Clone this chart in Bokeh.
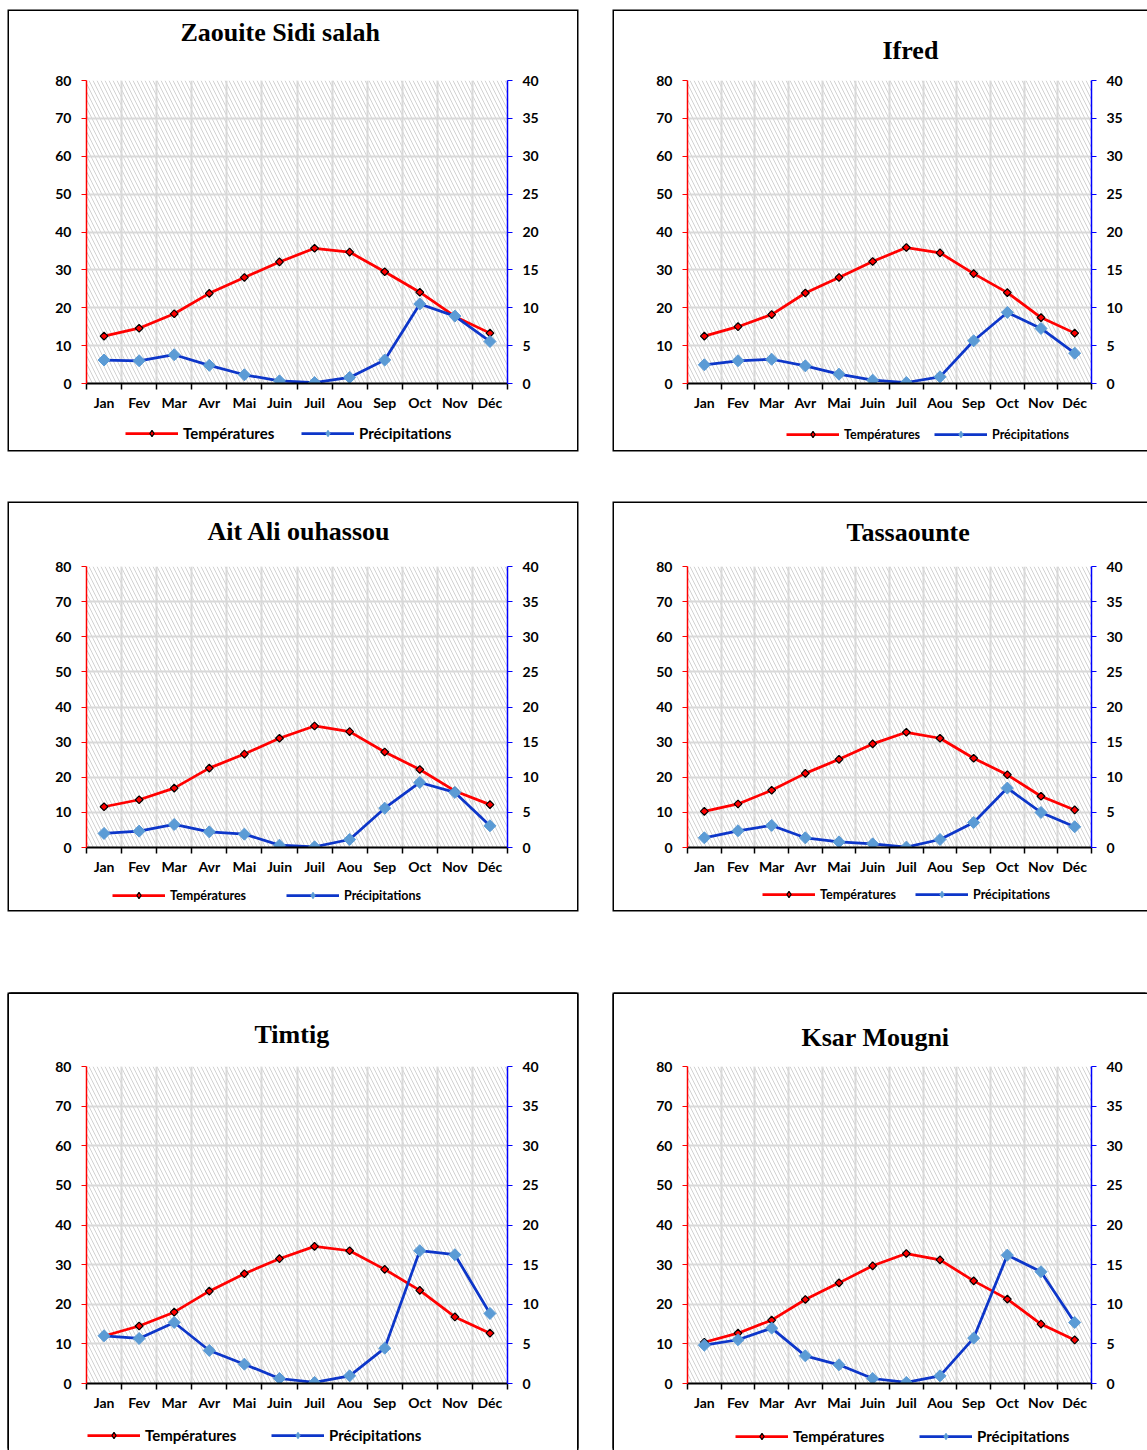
import math
from bokeh.plotting import figure
from bokeh.models import Range1d, LinearAxis, FixedTicker, BoxAnnotation, Legend, LegendItem, Label
from bokeh.layouts import column, row
from bokeh.embed import file_html
from bokeh.resources import INLINE

# ---------------- data ----------------
months = ["Jan", "Fev", "Mar", "Avr", "Mai", "Juin", "Juil", "Aou", "Sep", "Oct", "Nov", "Déc"]
temp_ticks = [0, 10, 20, 30, 40, 50, 60, 70, 80]
precip_ticks = [0, 5, 10, 15, 20, 25, 30, 35, 40]
series_names = ["Températures", "Précipitations"]

stations = ["Zaouite Sidi salah", "Ifred", "Ait Ali ouhassou", "Tassaounte", "Timtig", "Ksar Mougni"]

temp_zaouite = [12.5, 14.6, 18.4, 23.8, 28.0, 32.1, 35.7, 34.7, 29.5, 24.1, 17.7, 13.3]
precip_zaouite = [3.1, 3.0, 3.8, 2.4, 1.15, 0.35, 0.13, 0.8, 3.1, 10.5, 8.9, 5.55]

temp_ifred = [12.5, 15.0, 18.2, 23.9, 28.0, 32.2, 35.9, 34.5, 29.0, 24.0, 17.4, 13.3]
precip_ifred = [2.47, 3.0, 3.2, 2.33, 1.23, 0.44, 0.13, 0.88, 5.64, 9.38, 7.27, 4.0]

temp_aitali = [11.6, 13.6, 16.9, 22.6, 26.6, 31.1, 34.6, 33.0, 27.2, 22.2, 16.1, 12.2]
precip_aitali = [2.0, 2.33, 3.28, 2.23, 1.9, 0.33, 0.1, 1.14, 5.6, 9.26, 7.84, 3.09]

temp_tassaounte = [10.3, 12.4, 16.3, 21.1, 25.1, 29.5, 32.8, 31.1, 25.4, 20.7, 14.6, 10.7]
precip_tassaounte = [1.38, 2.38, 3.14, 1.38, 0.8, 0.52, 0.05, 1.14, 3.56, 8.46, 4.99, 2.95]

temp_timtig = [12.0, 14.5, 18.0, 23.3, 27.7, 31.5, 34.6, 33.5, 28.8, 23.5, 16.8, 12.7]
precip_timtig = [6.02, 5.68, 7.7, 4.17, 2.44, 0.63, 0.13, 0.97, 4.46, 16.76, 16.25, 8.84]

temp_ksar = [10.4, 12.7, 16.0, 21.2, 25.4, 29.7, 32.8, 31.2, 25.9, 21.3, 15.0, 11.0]
precip_ksar = [4.84, 5.52, 6.99, 3.49, 2.36, 0.63, 0.13, 0.97, 5.73, 16.2, 14.1, 7.7]

temps = [temp_zaouite, temp_ifred, temp_aitali, temp_tassaounte, temp_timtig, temp_ksar]
precips = [precip_zaouite, precip_ifred, precip_aitali, precip_tassaounte, precip_timtig, precip_ksar]

# ---------------- layout / style config ----------------
FULL = "0 0 0 1.5px #000"
NO_BOTTOM = "-1.5px 0 0 0 #000, 1.5px 0 0 0 #000, 0 -1.5px 0 0 #000, -1.5px -1.5px 0 0 #000, 1.5px -1.5px 0 0 #000"
LEFT_TOP = "-1.5px 0 0 0 #000, 0 -1.5px 0 0 #000, -1.5px -1.5px 0 0 #000"

# th: height of the title strip, bt: remaining top border of the chart
panels = [
    dict(fw=421, fh=303, bl=77, br=70, th=59, bt=10, bb=35, lh=32, margin=(11, 0, 0, 9), shadow=FULL,
         tox=94, toy=38, lx=39, ly=8, sp=24, lw=94, lf="15px"),
    dict(fw=404, fh=303, bl=73, br=56, th=59, bt=10, bb=35, lh=32, margin=(11, 0, 0, 37), shadow=FULL,
         tox=195, toy=20, lx=99, ly=8, sp=12, lw=78, lf="12.5px"),
    dict(fw=421, fh=281, bl=77, br=70, th=53, bt=10, bb=35, lh=28, margin=(53, 0, 0, 9), shadow=FULL,
         tox=121, toy=25, lx=26, ly=7, sp=37, lw=79, lf="12.5px"),
    dict(fw=404, fh=281, bl=73, br=56, th=53, bt=10, bb=35, lh=28, margin=(53, 0, 0, 37), shadow=FULL,
         tox=159, toy=24, lx=75, ly=8, sp=16, lw=79, lf="12.5px"),
    dict(fw=421, fh=317, bl=77, br=70, th=62, bt=10, bb=35, lh=32, margin=(84, 0, 0, 9), shadow=NO_BOTTOM,
         tox=168, toy=22, lx=1, ly=6, sp=32, lw=94, lf="15px"),
    dict(fw=404, fh=317, bl=73, br=56, th=62, bt=10, bb=35, lh=32, margin=(84, 0, 0, 37), shadow=LEFT_TOP,
         tox=114, toy=19, lx=48, ly=5, sp=33, lw=93, lf="15px"),
]

TICK_FONT = "Lato"
TITLE_FONT = "Liberation Serif"
GRID = "#d9d9d9"
RED = "#ff0000"
BLUE_LINE = "#0d36c9"
BLUE_MARK = "#5b9bd5"
ROT = math.pi / 4
NAN = float("nan")

T_LINE = dict(line_color=RED, line_width=2.75)
T_MARK = dict(marker="square", angle=ROT, size=5.5, fill_color=RED, line_color="black", line_width=1.2)
P_LINE = dict(line_color=BLUE_LINE, line_width=2.75)
P_MARK = dict(marker="square", angle=ROT, size=8.5, fill_color=BLUE_MARK, line_color=BLUE_MARK)
# legend swatches (the legend does not rotate markers, so use diamonds there)
T_MARK_LEG = dict(marker="diamond", size=8, fill_color=RED, line_color="black", line_width=1.2)
P_MARK_LEG = dict(marker="diamond", size=12, fill_color=BLUE_MARK, line_color=BLUE_MARK)


def blank_fig(c, height):
    w = c["bl"] + c["fw"] + c["br"]
    f = figure(width=w, height=height, x_range=Range1d(0, 1), y_range=Range1d(0, 1),
               x_axis_type=None, y_axis_type=None, min_border=0,
               output_backend="svg", toolbar_location=None, tools="",
               background_fill_color="white", border_fill_color="white",
               outline_line_color=None)
    f.xgrid.visible = False
    f.ygrid.visible = False
    return f


def style_axis(ax, color, tick_out):
    ax.axis_line_color = color
    ax.major_tick_line_color = color
    ax.major_tick_out = tick_out
    ax.major_tick_in = 0
    ax.major_label_text_font = TICK_FONT
    ax.major_label_text_font_style = "bold"
    ax.major_label_text_font_size = "14px"
    ax.major_label_text_color = "black"


def make_title(name, c):
    f = blank_fig(c, c["th"])
    f.add_layout(Label(x=c["tox"], y=c["toy"], x_units="screen", y_units="screen", text=name,
                       text_font=TITLE_FONT, text_font_style="bold", text_font_size="26px",
                       text_color="black", text_align="left", text_baseline="middle"))
    return f


def make_chart(t_vals, p_vals, c):
    n = len(months)
    x = list(range(n))
    bounds = [i - 0.5 for i in range(n + 1)]
    p = figure(frame_width=c["fw"], frame_height=c["fh"],
               min_border_left=c["bl"], min_border_right=c["br"],
               min_border_top=c["bt"], min_border_bottom=c["bb"],
               x_range=Range1d(bounds[0], bounds[-1]),
               y_range=Range1d(temp_ticks[0], temp_ticks[-1]),
               output_backend="svg", toolbar_location=None, tools="",
               background_fill_color="white", border_fill_color="white",
               outline_line_color=None)
    p.extra_y_ranges = {"precip": Range1d(precip_ticks[0], precip_ticks[-1])}

    xa = p.below[0]
    ya = p.left[0]

    # hatched plot area
    p.add_layout(BoxAnnotation(fill_color="white", fill_alpha=1.0, hatch_pattern="\\",
                               hatch_color="#d2d2d2", hatch_weight=1.0, hatch_scale=8,
                               line_color=None, level="image"))

    # grids
    p.xgrid.ticker = FixedTicker(ticks=bounds)
    p.xgrid.grid_line_color = GRID
    p.xgrid.grid_line_width = 2
    p.ygrid.ticker = FixedTicker(ticks=temp_ticks)
    p.ygrid.grid_line_color = GRID
    p.ygrid.grid_line_width = 2

    # series
    p.line(x, t_vals, **T_LINE)
    p.scatter(x, t_vals, **T_MARK)
    p.line(x, p_vals, y_range_name="precip", **P_LINE)
    p.scatter(x, p_vals, y_range_name="precip", **P_MARK)

    # x axis (bottom)
    style_axis(xa, "black", 6)
    xa.ticker = FixedTicker(ticks=x, minor_ticks=bounds)
    xa.major_label_overrides = {i: m for i, m in zip(x, months)}
    xa.major_tick_line_color = None
    xa.minor_tick_line_color = "black"
    xa.minor_tick_line_width = 1.5
    xa.minor_tick_out = 6
    xa.minor_tick_in = 0
    xa.axis_line_width = 2
    xa.major_label_standoff = 4

    # left axis
    style_axis(ya, RED, 5)
    ya.ticker = FixedTicker(ticks=temp_ticks)
    ya.axis_line_width = 1.5
    ya.minor_tick_line_color = None
    ya.major_label_standoff = 10

    # right axis
    ra = LinearAxis(y_range_name="precip", ticker=FixedTicker(ticks=precip_ticks))
    style_axis(ra, "#0000ff", 5)
    ra.axis_line_width = 1.5
    ra.minor_tick_line_color = None
    ra.major_label_standoff = 10
    p.add_layout(ra, "right")
    return p


def make_legend(c):
    lf = blank_fig(c, c["lh"])
    # legend-only proxies (NaN data: nothing drawn in the plot area)
    tl = lf.line([NAN], [NAN], **T_LINE)
    tm = lf.scatter([NAN], [NAN], **T_MARK_LEG)
    pl = lf.line([NAN], [NAN], **P_LINE)
    pm = lf.scatter([NAN], [NAN], **P_MARK_LEG)
    legend = Legend(items=[LegendItem(label=series_names[0], renderers=[tl, tm]),
                           LegendItem(label=series_names[1], renderers=[pl, pm])],
                    orientation="horizontal", location=(c["lx"], c["ly"]),
                    padding=0, margin=0, spacing=c["sp"],
                    glyph_width=53, glyph_height=16, label_height=16,
                    label_width=c["lw"], label_standoff=5,
                    label_text_font=TICK_FONT, label_text_font_style="bold",
                    label_text_font_size=c["lf"], label_text_color="black",
                    border_line_color=None, background_fill_alpha=0)
    lf.add_layout(legend)
    return lf


boxes = []
for i in range(len(stations)):
    c = panels[i]
    boxes.append(column(make_title(stations[i], c), make_chart(temps[i], precips[i], c), make_legend(c),
                        spacing=0, margin=c["margin"], styles={"box-shadow": c["shadow"]}))

layout = column(row(boxes[0], boxes[1]), row(boxes[2], boxes[3]), row(boxes[4], boxes[5]))

open("out.html", "w").write(file_html(layout, INLINE))
